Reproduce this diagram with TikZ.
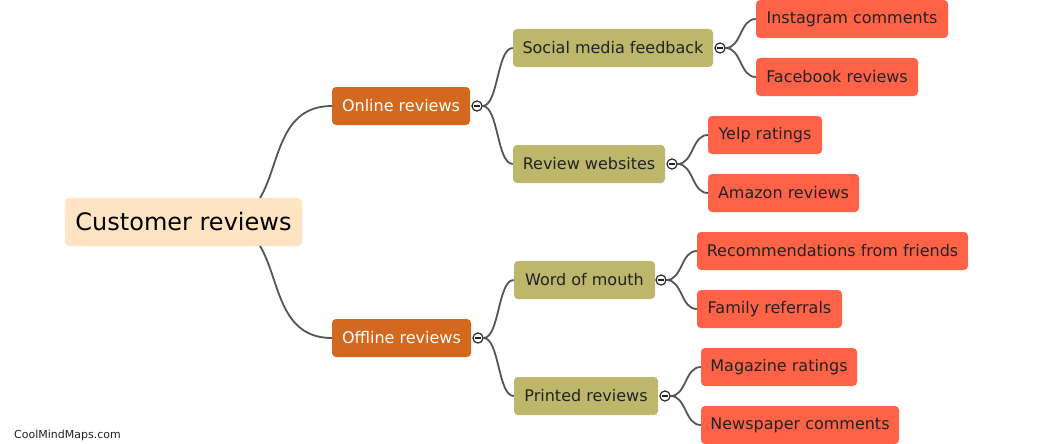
\documentclass[tikz,border=0pt]{standalone}
\usepackage{fontspec}
\setmainfont{DejaVu Sans}
\definecolor{rootc}{HTML}{FFE4C4}
\definecolor{l1c}{HTML}{D2691E}
\definecolor{l2c}{HTML}{BDB76B}
\definecolor{l3c}{HTML}{FF6347}
\definecolor{linec}{HTML}{555555}
\definecolor{txtc}{HTML}{222222}
\tikzset{
  box/.style={rounded corners=4pt, minimum height=38pt, inner sep=0pt, align=center,
    font=\fontsize{16}{19}\selectfont},
  rootbox/.style={box, fill=rootc, minimum height=48pt, text=black, font=\fontsize{24}{28}\selectfont},
  l1box/.style={box, fill=l1c, text=white},
  l2box/.style={box, fill=l2c, text=txtc},
  l3box/.style={box, fill=l3c, text=txtc},
  toggle/.style={circle, draw=txtc, line width=1pt, fill=white, minimum size=10pt, inner sep=0pt},
  conn/.style={draw=linec, line width=1.8pt},
}
\newcommand{\minus}[1]{\draw[txtc, line width=1.5pt] ([xshift=-2.8pt]#1.center) -- ([xshift=2.8pt]#1.center);}
\begin{document}
\begin{tikzpicture}[x=1pt,y=-1pt]
\useasboundingbox (0,0) rectangle (1046,444);
% nodes
\node[rootbox, minimum width=237pt] (root) at (183.5,222) {Customer reviews};
\node[l1box, minimum width=138pt] (on) at (401,106) {Online reviews};
\node[l1box, minimum width=139pt] (off) at (401.5,338) {Offline reviews};
\node[l2box, minimum width=200pt] (soc) at (613,48) {Social media feedback};
\node[l2box, minimum width=152pt] (rev) at (589,164) {Review websites};
\node[l2box, minimum width=141pt] (wom) at (584.5,280) {Word of mouth};
\node[l2box, minimum width=144pt] (pri) at (586,396) {Printed reviews};
\node[l3box, minimum width=192pt] (ins) at (852,19) {Instagram comments};
\node[l3box, minimum width=162pt] (fac) at (837,77) {Facebook reviews};
\node[l3box, minimum width=114pt] (yel) at (765,135) {Yelp ratings};
\node[l3box, minimum width=151pt] (ama) at (783.5,193) {Amazon reviews};
\node[l3box, minimum width=271pt] (rec) at (832.5,251) {Recommendations from friends};
\node[l3box, minimum width=145pt] (fam) at (769.5,309) {Family referrals};
\node[l3box, minimum width=156pt] (mag) at (779,367) {Magazine ratings};
\node[l3box, minimum width=198pt] (new) at (800,425) {Newspaper comments};
% root connectors
\coordinate (rt) at (260,198);
\coordinate (rb) at (260,246);
\draw[conn] (rt) .. controls (280,165) and (278,106) .. (on.west);
\draw[conn] (rb) .. controls (280,279) and (278,338) .. (off.west);
% toggles
\node[toggle] (t1) at (477,106) {};
\node[toggle] (t2) at (478,338) {};
\node[toggle] (t3) at (720,48) {};
\node[toggle] (t4) at (672,164) {};
\node[toggle] (t5) at (661,280) {};
\node[toggle] (t6) at (665,396) {};
% child connectors
\draw[conn] (t1.east) .. controls +(16,0) and +(-16,0) .. (soc.west);
\draw[conn] (t1.east) .. controls +(16,0) and +(-16,0) .. (rev.west);
\draw[conn] (t2.east) .. controls +(16,0) and +(-16,0) .. (wom.west);
\draw[conn] (t2.east) .. controls +(16,0) and +(-16,0) .. (pri.west);
\draw[conn] (t3.east) .. controls +(16,0) and +(-16,0) .. (ins.west);
\draw[conn] (t3.east) .. controls +(16,0) and +(-16,0) .. (fac.west);
\draw[conn] (t4.east) .. controls +(16,0) and +(-16,0) .. (yel.west);
\draw[conn] (t4.east) .. controls +(16,0) and +(-16,0) .. (ama.west);
\draw[conn] (t5.east) .. controls +(16,0) and +(-16,0) .. (rec.west);
\draw[conn] (t5.east) .. controls +(16,0) and +(-16,0) .. (fam.west);
\draw[conn] (t6.east) .. controls +(16,0) and +(-16,0) .. (mag.west);
\draw[conn] (t6.east) .. controls +(16,0) and +(-16,0) .. (new.west);
% redraw toggles on top
\foreach \t in {t1,t2,t3,t4,t5,t6}{
  \node[toggle] at (\t) {};
  \minus{\t}
}
% watermark
\node[anchor=west, text=txtc, font=\fontsize{11}{13}\selectfont, inner sep=0pt] (wm) at (14,435) {CoolMindMaps.com};
\end{tikzpicture}
\end{document}
